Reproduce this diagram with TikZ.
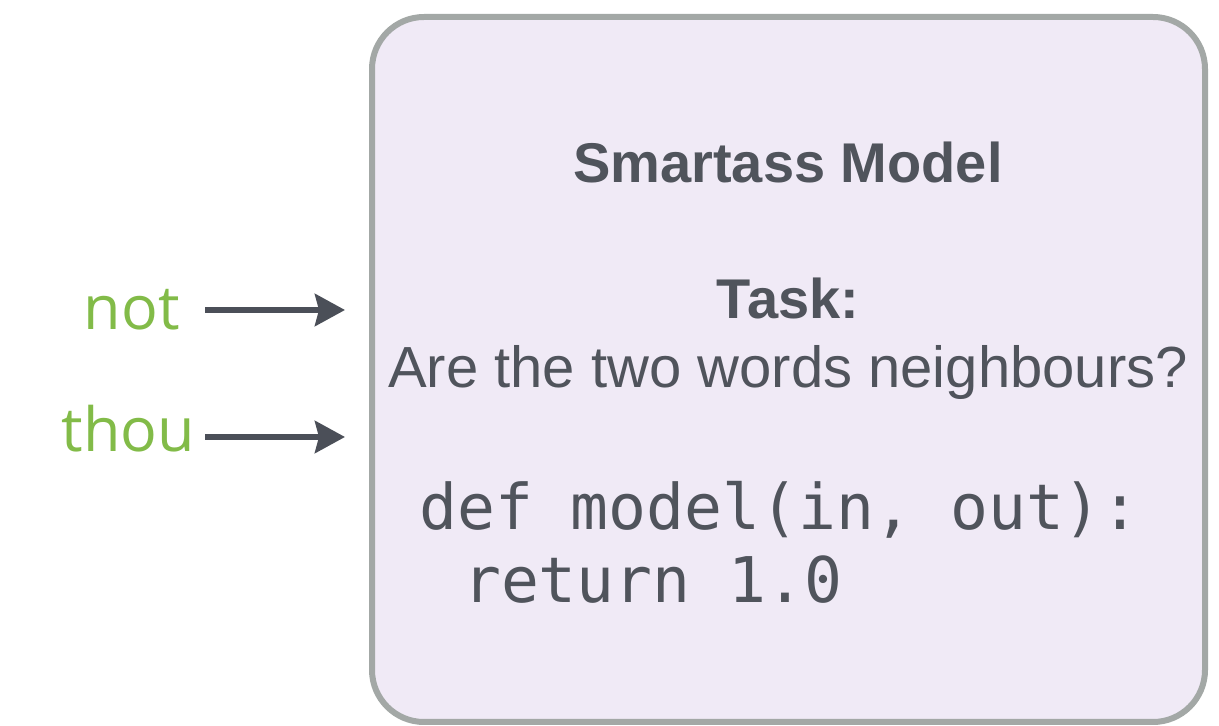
\documentclass[tikz,border=0pt]{standalone}
\usepackage{fontspec}
\setmainfont{Liberation Sans}
\newfontfamily\labelfont{Open Sans}
\newfontfamily\codefont{DejaVu Sans Mono}
\usetikzlibrary{arrows.meta}
\definecolor{txt}{HTML}{50545C}
\definecolor{arrowcol}{HTML}{4B4F58}
\definecolor{boxborder}{HTML}{A3A8A6}
\definecolor{boxfill}{HTML}{F0EAF6}
\definecolor{wordgreen}{HTML}{82BB48}
\tikzset{
  modelbox/.style={draw=boxborder, fill=boxfill, line width=6pt, rounded corners=52pt,
    minimum width=833pt, minimum height=705pt, inner sep=0pt},
  plain/.style={inner sep=0pt, text=txt},
  word/.style={inner sep=0pt, text=wordgreen, font=\labelfont\fontsize{61}{65}\selectfont},
  arr/.style={draw=arrowcol, line width=6pt, -{Stealth[length=30pt,width=32pt,inset=4pt]}}
}
\begin{document}
\begin{tikzpicture}[x=1pt,y=1pt]
\useasboundingbox (0,0) rectangle (1219,726);
\node[modelbox] (box) at (788.5,356.5) {};
\node[plain, anchor=base, font=\bfseries\fontsize{56}{60}\selectfont] (title) at (788,543) {Smartass Model};
\node[plain, anchor=base, font=\bfseries\fontsize{56}{60}\selectfont] (task) at (788,407) {Task:};
\node[plain, anchor=base, font=\fontsize{58}{62}\selectfont] (question) at (788,338) {Are the two words neighbours?};
\node[plain, anchor=base west, font=\codefont\fontsize{63}{70}\selectfont] (code1) at (419,196) {def model(in, out):};
\node[plain, anchor=base west, font=\codefont\fontsize{63}{70}\selectfont] (code2) at (425,123) {\ return 1.0};
\node[word, anchor=base east] (not) at (180,396) {not};
\node[word, anchor=base east] (thou) at (195,274) {thou};
\coordinate (s1) at (205,416);
\coordinate (e1) at (345,416);
\coordinate (s2) at (205,289);
\coordinate (e2) at (345,289);
\draw[arr] (s1) -- (e1);
\draw[arr] (s2) -- (e2);
\end{tikzpicture}
\end{document}
